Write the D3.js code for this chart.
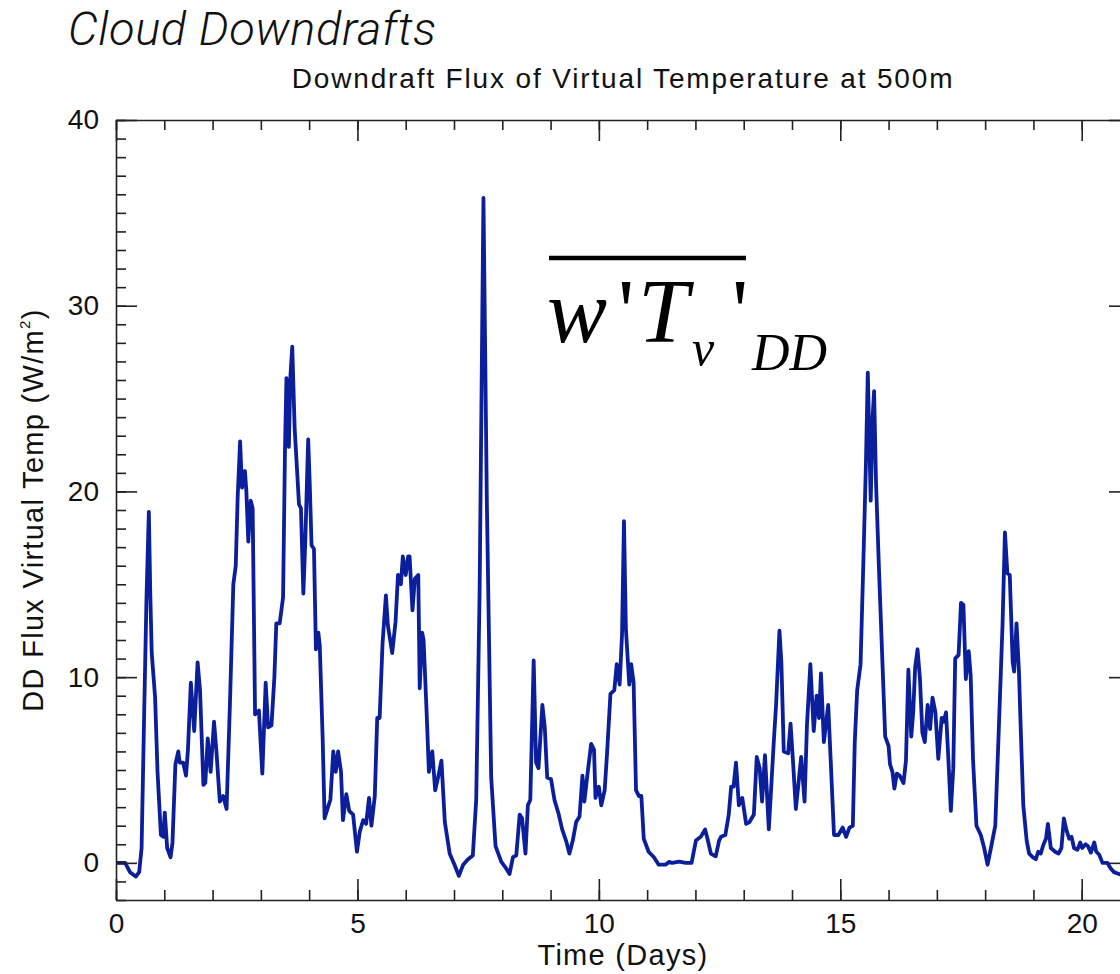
<!DOCTYPE html>
<html>
<head>
<meta charset="utf-8">
<script src="https://cdn.jsdelivr.net/npm/d3@7"></script>
<style>
html,body{margin:0;padding:0;background:#fff;}
svg{display:block;}
</style>
</head>
<body>
<svg id="chart" width="1120" height="974"></svg>
<script>
// ---- data ----
const days = [0,0.19,0.29,0.41,0.48,0.53,0.58,0.63,0.68,0.71,0.74,0.81,0.86,0.93,0.98,1.01,1.06,1.13,1.17,1.23,1.29,1.32,1.39,1.45,1.49,1.55,1.62,1.69,1.74,1.81,1.85,1.90,1.96,2.03,2.08,2.15,2.22,2.29,2.36,2.43,2.48,2.52,2.57,2.61,2.67,2.70,2.74,2.79,2.83,2.88,2.96,3.03,3.10,3.15,3.22,3.28,3.32,3.39,3.43,3.46,3.50,3.53,3.58,3.61,3.65,3.70,3.79,3.83,3.88,3.92,3.98,4.01,4.05,4.10,4.14,4.19,4.22,4.28,4.32,4.39,4.44,4.50,4.55,4.60,4.66,4.70,4.77,4.83,4.91,4.99,5.05,5.12,5.18,5.24,5.29,5.36,5.41,5.46,5.52,5.59,5.63,5.72,5.79,5.84,5.90,5.94,6.00,6.05,6.08,6.14,6.19,6.26,6.29,6.34,6.37,6.43,6.48,6.55,6.61,6.67,6.74,6.81,6.91,7.01,7.10,7.19,7.29,7.39,7.46,7.53,7.61,7.68,7.77,7.86,7.98,8.08,8.15,8.22,8.29,8.36,8.41,8.48,8.53,8.58,8.65,8.70,8.75,8.83,8.88,8.93,9.01,9.08,9.17,9.24,9.32,9.39,9.46,9.53,9.60,9.66,9.70,9.77,9.84,9.90,9.93,10.00,10.05,10.12,10.17,10.24,10.32,10.37,10.43,10.48,10.52,10.56,10.63,10.67,10.72,10.77,10.83,10.88,10.93,11.03,11.14,11.24,11.38,11.45,11.52,11.66,11.80,11.92,12.01,12.11,12.20,12.25,12.32,12.42,12.49,12.53,12.62,12.69,12.74,12.79,12.84,12.90,12.97,13.05,13.12,13.21,13.27,13.33,13.38,13.44,13.52,13.62,13.67,13.74,13.78,13.83,13.92,13.97,14.02,14.08,14.19,14.26,14.31,14.38,14.45,14.51,14.56,14.60,14.66,14.75,14.80,14.87,14.96,15.05,15.12,15.19,15.26,15.30,15.35,15.42,15.48,15.53,15.57,15.63,15.67,15.70,15.74,15.80,15.87,15.93,16.00,16.03,16.08,16.12,16.17,16.23,16.31,16.36,16.41,16.47,16.51,16.55,16.60,16.65,16.70,16.75,16.81,16.86,16.91,16.97,17.03,17.10,17.14,17.19,17.24,17.29,17.34,17.38,17.45,17.50,17.55,17.60,17.66,17.70,17.75,17.82,17.91,17.98,18.05,18.12,18.21,18.28,18.36,18.41,18.46,18.51,18.57,18.60,18.65,18.70,18.74,18.79,18.86,18.91,18.99,19.05,19.10,19.15,19.21,19.26,19.30,19.36,19.45,19.52,19.58,19.63,19.68,19.74,19.79,19.84,19.91,19.97,20.01,20.08,20.13,20.19,20.26,20.30,20.36,20.43,20.53,20.60,20.67,20.77,20.90,21.00];
const flux = [0,0,-0.5,-0.74,-0.5,0.8,7.6,14.1,18.9,14.5,11.3,8.9,4.9,1.5,1.4,2.7,0.8,0.3,1.1,5.3,6.0,5.4,5.4,4.7,6.1,9.7,7.1,10.8,9.3,4.2,4.3,6.7,4.9,7.6,6.0,3.3,3.6,2.9,8.6,15.0,16.0,19.7,22.7,20.2,21.1,20.0,17.3,19.5,19.1,8.0,8.2,4.8,9.7,7.3,7.4,10.0,12.9,12.9,13.7,14.3,22.3,26.1,22.4,26.1,27.8,23.4,19.3,19.1,14.5,17.3,22.8,20.6,17.1,16.9,11.5,12.4,11.7,6.7,2.4,3.0,3.4,6.0,4.9,6.0,4.9,2.3,3.7,2.8,2.6,0.6,1.7,2.3,2.1,3.5,2.0,3.6,7.8,7.8,11.8,14.4,12.8,11.3,13.0,15.5,15.0,16.5,15.5,16.5,16.5,13.6,15.3,15.5,9.4,12.4,12.0,8.3,4.9,6.0,3.9,4.6,5.5,2.2,0.5,-0.1,-0.7,-0.1,0.2,0.4,3.4,14.5,35.8,19.5,4.6,0.9,0.05,-0.3,-0.6,0.3,0.4,2.6,2.4,0.5,3.1,3.4,10.9,5.4,5.1,8.5,7.3,4.6,4.5,3.4,2.6,1.8,1.2,0.5,1.2,2.2,2.5,4.7,3.3,4.9,6.4,6.1,3.5,4.1,3.1,3.9,5.9,9.1,9.3,10.7,9.6,12.3,18.4,12.6,9.6,10.7,9.7,3.9,3.6,3.6,1.3,0.6,0.3,-0.1,-0.1,0.05,0,0.07,0,0,1.2,1.4,1.8,1.3,0.5,0.35,1.2,1.4,1.5,2.6,4.1,4.1,5.4,3.1,3.5,2.1,2.2,2.6,5.7,5.1,3.3,5.8,1.8,6.4,8.5,12.5,10.8,6.0,5.9,7.5,5.5,2.9,5.7,3.3,7.4,10.7,7.1,9.0,7.8,10.2,6.5,8.5,5.6,1.5,1.5,1.9,1.4,1.9,2.0,6.5,9.3,10.7,16.4,21.4,26.4,19.5,24.0,25.4,20.5,15.9,11.0,6.8,6.3,5.3,4.9,4.0,4.8,4.7,4.3,5.5,10.4,6.8,8.1,10.5,11.5,9.9,7.0,6.5,8.5,7.2,8.9,8.1,5.6,7.8,7.6,8.1,5.5,2.8,5.1,11.0,11.2,14.0,13.9,9.9,11.4,10.1,5.5,2.0,1.5,0.8,-0.1,0.8,2.0,7.0,12.8,17.8,15.6,15.5,10.8,10.3,12.9,10.3,7.0,3.1,1.2,0.5,0.3,0.2,0.6,0.5,1.0,1.3,2.1,0.8,0.6,0.5,0.8,2.4,1.8,1.3,1.4,0.8,0.7,1.1,0.8,1.0,0.9,0.55,1.1,0.6,0.45,0,0,-0.3,-0.5,-0.6,-0.7,-0.7];
const xMajorTicks = [0, 5, 10, 15, 20];
const xMinorTicks = d3.range(0, 22, 1);
const yMajorTicks = [0, 10, 20, 30, 40];
const yMinorTicks = d3.range(-2, 41, 1);
const xDomain = [0, 21];
const yDomain = [-2, 40];
const pageTitle = "Cloud Downdrafts";
const chartTitle = "Downdraft Flux of Virtual Temperature at 500m";
const xLabel = "Time (Days)";
const yLabel = "DD Flux Virtual Temp (W/m";

// ---- layout ----
const L = 116, R = 1130, T = 120, B = 900;
const svg = d3.select("#chart");
const x = d3.scaleLinear().domain(xDomain).range([L, R]);
const y = d3.scaleLinear().domain(yDomain).range([B, T]);
const axisColor = "#222";
const sans = "'Liberation Sans', Arial, Helvetica, sans-serif";

svg.append("defs").append("clipPath").attr("id", "plotclip")
  .append("rect").attr("x", L).attr("y", T).attr("width", R - L).attr("height", B - T);

// data line
const data = days.map((d, i) => [d, flux[i]]);
svg.append("path")
  .datum(data)
  .attr("clip-path", "url(#plotclip)")
  .attr("fill", "none")
  .attr("stroke", "#0b1f9c")
  .attr("stroke-width", 3.8)
  .attr("stroke-linejoin", "round")
  .attr("stroke-linecap", "round")
  .attr("d", d3.line().x(d => x(d[0])).y(d => y(d[1])));

function styleAxis(g, labels) {
  g.select(".domain").attr("stroke", axisColor).attr("stroke-width", 1.6);
  g.selectAll(".tick line").attr("stroke", axisColor).attr("stroke-width", 1.6);
  g.selectAll(".tick text").attr("font-family", sans).attr("font-size", 28).attr("fill", "#111");
  if (!labels) g.selectAll(".tick text").remove();
}
const noFmt = () => "";

// bottom
const gb = svg.append("g").attr("transform", `translate(0,${B})`)
  .call(d3.axisBottom(x).tickValues(xMajorTicks).tickSizeInner(-21).tickSizeOuter(0).tickPadding(13).tickFormat(d3.format("d")));
styleAxis(gb, true);
const gbm = svg.append("g").attr("transform", `translate(0,${B})`)
  .call(d3.axisBottom(x).tickValues(xMinorTicks).tickSizeInner(-10).tickSizeOuter(0).tickFormat(noFmt));
styleAxis(gbm, false); gbm.select(".domain").remove();
// top
const gt = svg.append("g").attr("transform", `translate(0,${T})`)
  .call(d3.axisTop(x).tickValues(xMajorTicks).tickSizeInner(-21).tickSizeOuter(0).tickFormat(noFmt));
styleAxis(gt, false);
const gtm = svg.append("g").attr("transform", `translate(0,${T})`)
  .call(d3.axisTop(x).tickValues(xMinorTicks).tickSizeInner(-10).tickSizeOuter(0).tickFormat(noFmt));
styleAxis(gtm, false); gtm.select(".domain").remove();
// left
const gl = svg.append("g").attr("transform", `translate(${L},0)`)
  .call(d3.axisLeft(y).tickValues(yMajorTicks).tickSizeInner(-21).tickSizeOuter(0).tickPadding(17).tickFormat(d3.format("d")));
styleAxis(gl, true);
const glm = svg.append("g").attr("transform", `translate(${L},0)`)
  .call(d3.axisLeft(y).tickValues(yMinorTicks).tickSizeInner(-10).tickSizeOuter(0).tickFormat(noFmt));
styleAxis(glm, false); glm.select(".domain").remove();
// right
const gr = svg.append("g").attr("transform", `translate(${R},0)`)
  .call(d3.axisRight(y).tickValues(yMajorTicks).tickSizeInner(-21).tickSizeOuter(0).tickFormat(noFmt));
styleAxis(gr, false);
const grm = svg.append("g").attr("transform", `translate(${R},0)`)
  .call(d3.axisRight(y).tickValues(yMinorTicks).tickSizeInner(-10).tickSizeOuter(0).tickFormat(noFmt));
styleAxis(grm, false); grm.select(".domain").remove();

// titles
svg.append("text").attr("x", 68).attr("y", 45)
  .attr("font-family", "Roboto, 'Liberation Sans', sans-serif")
  .attr("font-weight", 300).attr("font-style", "italic")
  .attr("font-size", 47).attr("letter-spacing", 0.6).attr("fill", "#111").text(pageTitle);

svg.append("text").attr("x", (L + R) / 2).attr("y", 88)
  .attr("text-anchor", "middle").attr("font-family", sans)
  .attr("font-size", 28).attr("letter-spacing", 1.85).attr("fill", "#111").text(chartTitle);

svg.append("text").attr("x", (L + R) / 2).attr("y", 965)
  .attr("text-anchor", "middle").attr("font-family", sans)
  .attr("font-size", 29).attr("letter-spacing", 1.3).attr("fill", "#111").text(xLabel);

const yl = svg.append("text")
  .attr("transform", `translate(43,${(T + B) / 2}) rotate(-90)`)
  .attr("text-anchor", "middle").attr("font-family", sans)
  .attr("font-size", 29).attr("letter-spacing", 1.3).attr("fill", "#111");
yl.append("tspan").text(yLabel);
yl.append("tspan").attr("font-size", 15).attr("dy", -13).text("2");
yl.append("tspan").attr("dy", 13).text(")");

// formula annotation
const serif = "'Liberation Serif', 'Times New Roman', serif";
const f = svg.append("g").attr("font-family", serif).attr("font-style", "italic").attr("fill", "#000");
svg.append("line").attr("x1", 549).attr("x2", 746).attr("y1", 258).attr("y2", 258)
  .attr("stroke", "#000").attr("stroke-width", 4.5);
f.append("text").attr("x", 547).attr("y", 342).attr("font-size", 90).text("w");
f.append("text").attr("x", 618).attr("y", 342).attr("font-size", 90).attr("font-style", "normal").text("'");
f.append("text").attr("x", 638).attr("y", 342).attr("font-size", 91).text("T");
f.append("text").attr("x", 692).attr("y", 365).attr("font-size", 50).text("v");
f.append("text").attr("x", 732).attr("y", 342).attr("font-size", 90).attr("font-style", "normal").text("'");
f.append("text").attr("x", 752).attr("y", 370).attr("font-size", 52).text("DD");
</script>
</body>
</html>
